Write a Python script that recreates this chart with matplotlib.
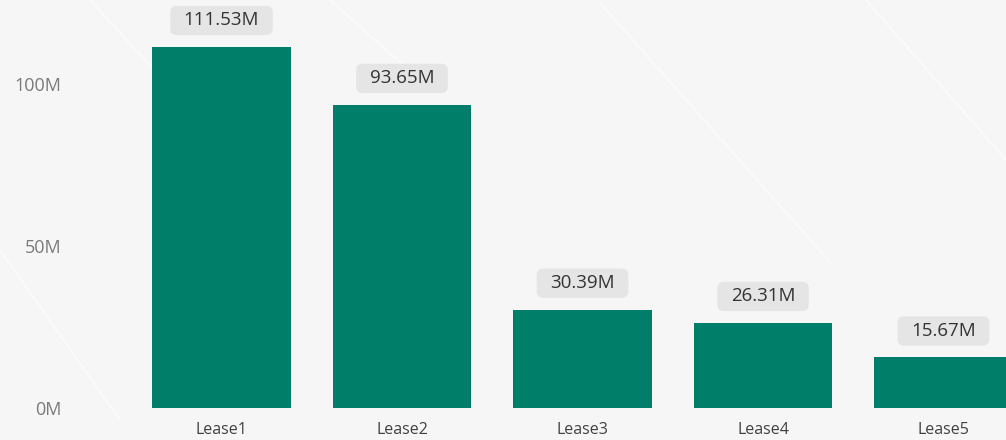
import matplotlib
matplotlib.use("Agg")
import matplotlib.pyplot as plt
from matplotlib.patches import BoxStyle
from matplotlib.ticker import FuncFormatter

plt.rcParams['font.family'] = ['Open Sans', 'DejaVu Sans']

# Values in millions
categories = ["Lease1", "Lease2", "Lease3", "Lease4", "Lease5"]
values = [111.53, 93.65, 30.39, 26.31, 15.67]
value_labels = ["111.53M", "93.65M", "30.39M", "26.31M", "15.67M"]
y_ticks = [0, 50, 100]

BG = "#f6f6f6"
BAR = "#007e6a"


def label_box(x0, y0, width, height, mutation_size):
    """Rounded box with wider horizontal than vertical padding."""
    padx = 0.72 * mutation_size
    pady = 0.30 * mutation_size
    rnd = BoxStyle.Round(pad=0, rounding_size=0.35 * mutation_size)
    return rnd(x0 - padx, y0 - pady, width + 2 * padx, height + 2 * pady, 1.0)


fig = plt.figure(figsize=(10.06, 4.40), dpi=100, facecolor=BG)

# faint white streaks across the canvas background
for (x0, y0, x1, y1) in [(600, 3, 830, 262), (866, 0, 1006, 160),
                         (0, 250, 120, 420), (90, 0, 200, 120),
                         (330, 0, 420, 80)]:
    line = plt.Line2D([x0 / 1006, x1 / 1006], [1 - y0 / 440, 1 - y1 / 440],
                      transform=fig.transFigure, color="white", lw=1.6,
                      alpha=0.55, zorder=0)
    fig.add_artist(line)

ax = fig.add_axes([110 / 1006, 32 / 440, 896 / 1006, 408 / 440])
ax.set_facecolor("none")

x = list(range(len(categories)))
ax.bar(x, values, width=0.77, color=BAR, zorder=2)

ax.set_xlim(-0.6177, -0.6177 + 896 / 180.5)
ax.set_ylim(0, 126.0)

for xi, v, lab in zip(x, values, value_labels):
    ax.annotate(lab, (xi, v), xytext=(0, 19), textcoords="offset points",
                ha="center", va="center", fontsize=13.5, color="#333333",
                bbox=dict(boxstyle=label_box, fc="#e5e5e5", ec="none"),
                zorder=3)

ax.set_xticks(x)
ax.set_xticklabels(categories, fontsize=11.5, color="#404040")
ax.set_yticks(y_ticks)
ax.yaxis.set_major_formatter(FuncFormatter(lambda v, p: f"{int(v)}M"))
ax.tick_params(axis="y", length=0, pad=35, labelsize=13, labelcolor="#7a7a7a")
ax.tick_params(axis="x", length=0, pad=10)

for s in ax.spines.values():
    s.set_visible(False)

fig.savefig("out.png", dpi=100, facecolor=BG)
